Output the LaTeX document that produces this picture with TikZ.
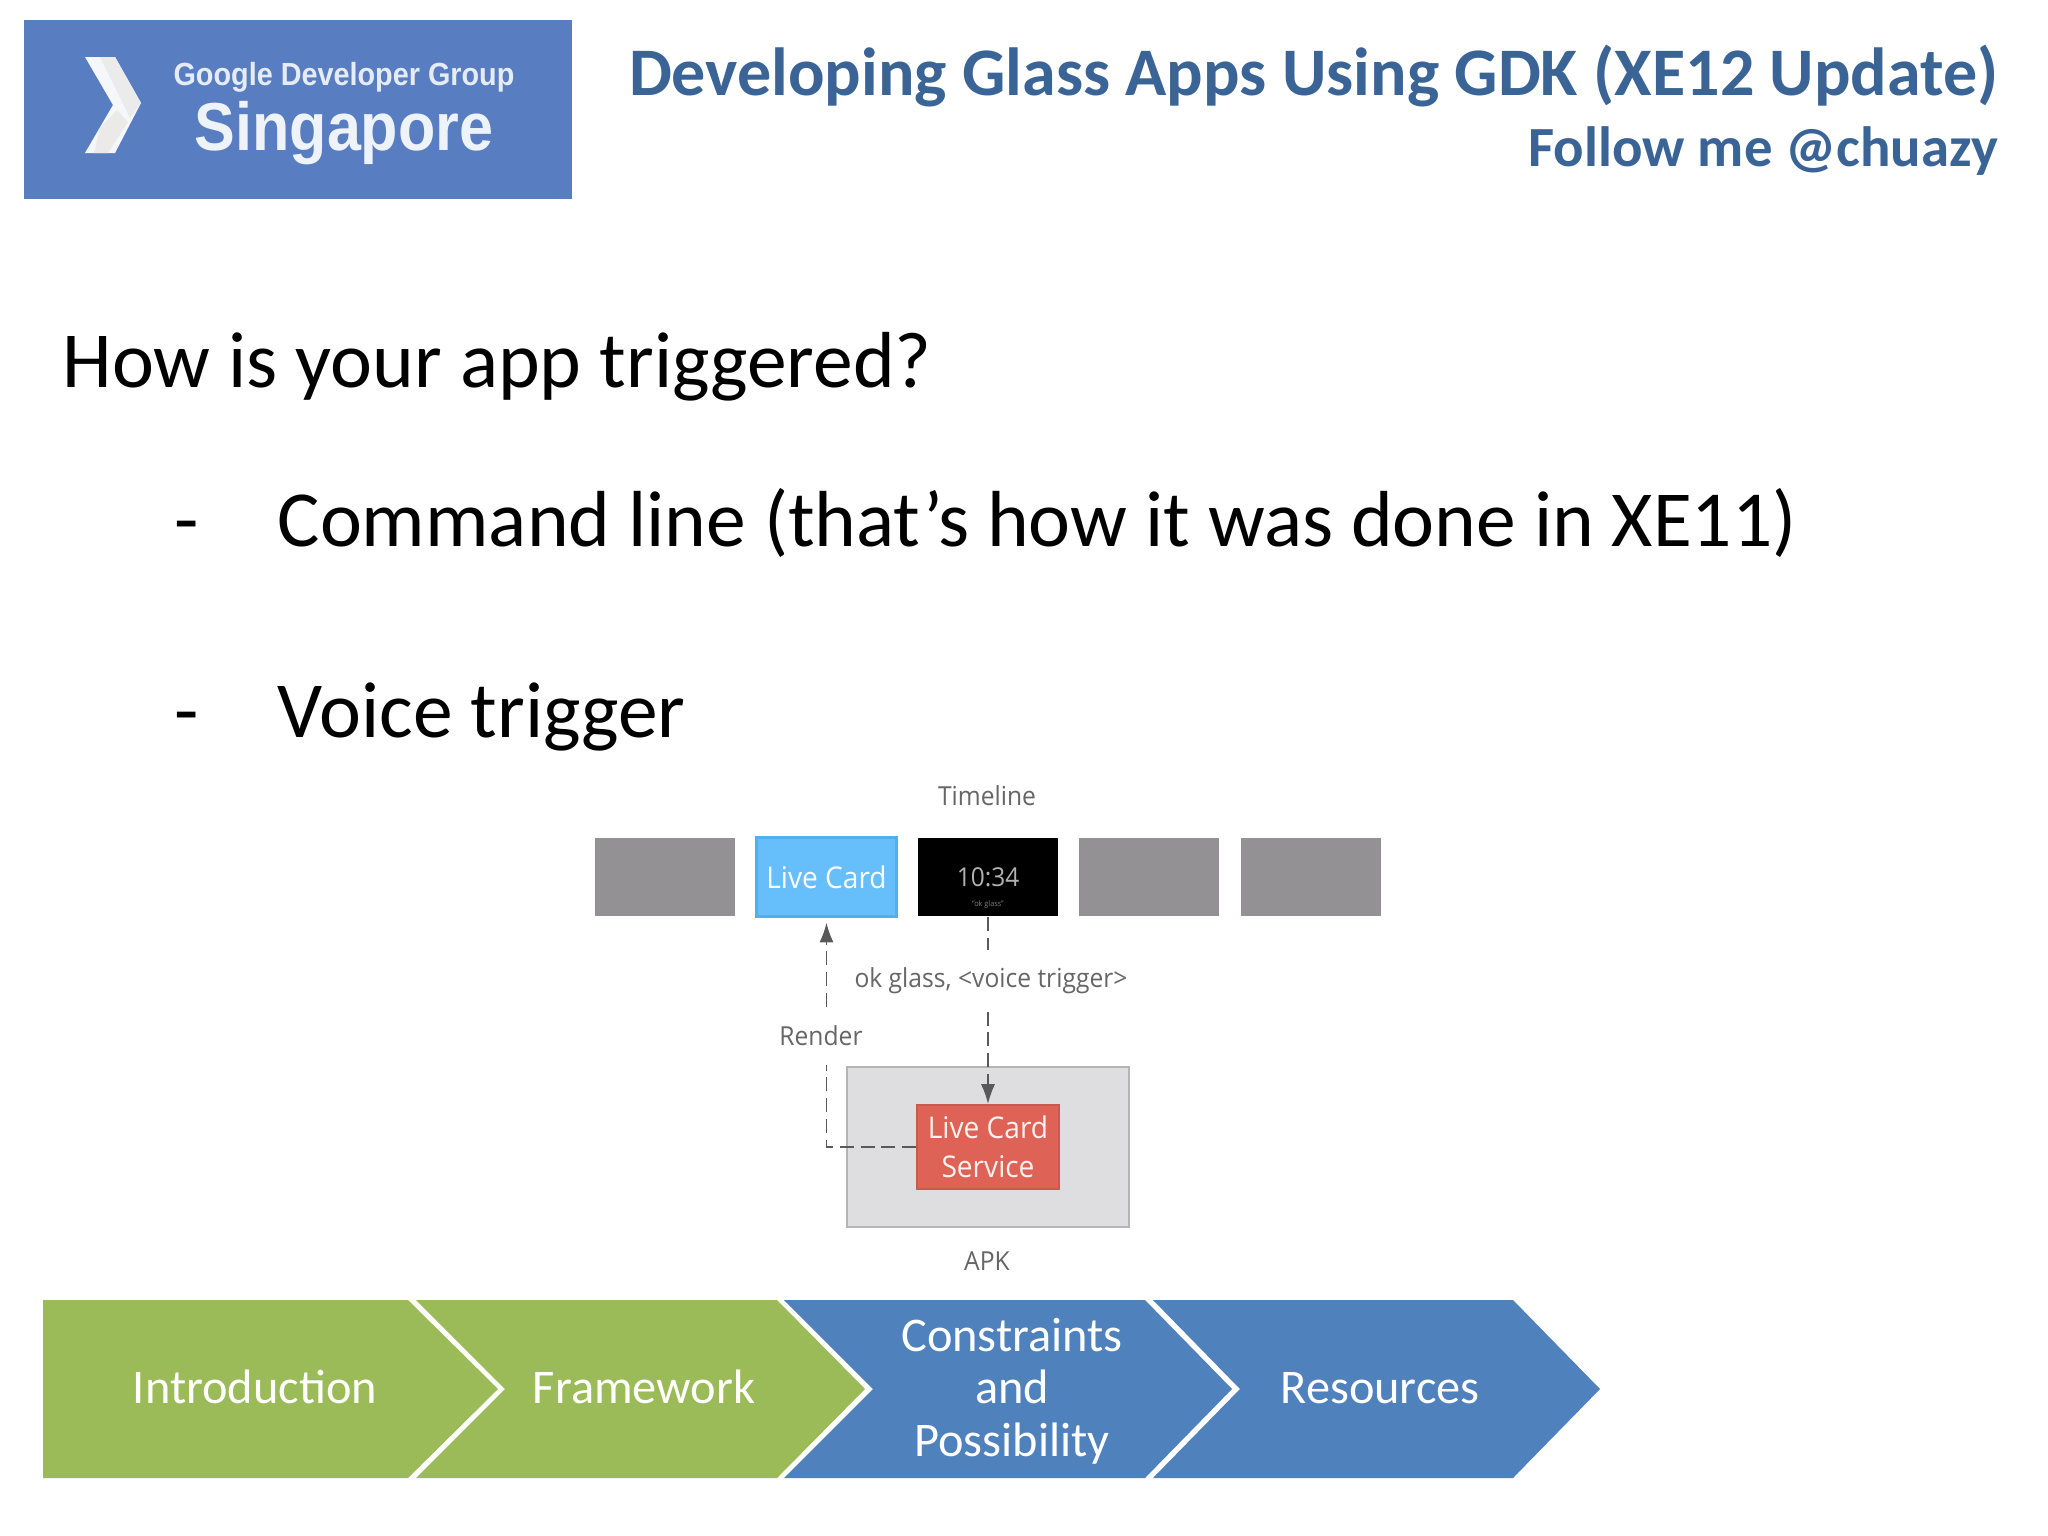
\documentclass[tikz,border=0pt]{standalone}
\usepackage{fontspec}
\usetikzlibrary{arrows.meta}
\setmainfont{Carlito}
\newfontfamily\cardfont[FakeStretch=0.94]{Open Sans}
\newfontfamily\logofont[FakeStretch=0.9]{Liberation Sans}
\definecolor{logoblue}{HTML}{587DC0}
\definecolor{titleblue}{HTML}{3A6496}
\definecolor{stepgreen}{HTML}{9BBB59}
\definecolor{stepblue}{HTML}{4F81BD}
\definecolor{cardgray}{HTML}{939194}
\definecolor{cardblue}{HTML}{66BEFB}
\definecolor{cardedge}{HTML}{4FB0EE}
\definecolor{apkgray}{HTML}{DEDDE0}
\definecolor{apkedge}{HTML}{B4B4B6}
\definecolor{servicered}{HTML}{DF6257}
\definecolor{inktext}{HTML}{666666}
\tikzset{
    titletext/.style={anchor=base east, inner sep=0pt, text=titleblue, font=\bfseries\fontsize{19.35}{23}\selectfont},
    bodytext/.style={anchor=base west, inner sep=0pt, text=black, font=\fontsize{22.6}{27}\selectfont},
    tcard/.style={inner sep=0pt, minimum width=40pt, minimum height=22.4pt},
    flowtext/.style={text=inktext, inner sep=0pt, font=\cardfont\fontsize{7.45}{9}\selectfont},
    flowline/.style={draw=black!65, line width=0.45pt, dash pattern=on 4pt off 1.9pt},
    flowtip/.style={-{Latex[length=5.6pt,width=4pt]}},
    steptext/.style={text=white, align=center, font=\fontsize{13.75}{15}\selectfont},
}
\begin{document}
\begin{tikzpicture}[x=0.01cm, y=-0.01cm]
    \useasboundingbox (0,0) rectangle (2048,1536);
    \fill [white] (0,0) rectangle (2048,1536);
    \fill [logoblue] (24,20) rectangle (572,199);
    \fill [white!94!logoblue] (85,57) -- (115,57) -- (141,103) -- (115,153) -- (85,153) -- (113,105) -- cycle;
    \fill [black!8] (100,57) -- (115,57) -- (141,103) -- (130,118) -- cycle;
    \fill [yellow!8!black!10] (100,128) -- (117,110) -- (128,122) -- (108,153) -- (94,153) -- cycle;
    \node [anchor=base, text=white!85!logoblue, font=\logofont\bfseries\fontsize{9.1}{11}\selectfont] (logotop) at (344,85) {Google Developer Group};
    \node [anchor=base, text=white!90!logoblue, font=\logofont\bfseries\fontsize{19.3}{23}\selectfont] (logomain) at (344,150) {Singapore};
    \node [titletext] (title) at (1999,95) {Developing Glass Apps Using GDK (XE12 Update)};
    \node [titletext, font=\bfseries\fontsize{16.15}{20}\selectfont] (follow) at (1999,166) {Follow me @chuazy};
    \node [bodytext] (question) at (62,387) {How is your app triggered?};
    \node [bodytext] (dashone) at (174,546) {-};
    \node [bodytext] (command) at (277,546) {Command line (that’s how it was done in XE11)};
    \node [bodytext] (dashtwo) at (174,737) {-};
    \node [bodytext] (voice) at (277,737) {Voice trigger};
    \node [flowtext] (timeline) at (987,796) {Timeline};
    \node [tcard, fill=cardgray] (cardone) at (665,877) {};
    \node [tcard, fill=cardblue, draw=cardedge, line width=0.8pt, text=white, font=\cardfont\fontsize{8.5}{10}\selectfont] (livecard) at (826.5,877) {Live Card};
    \node [tcard, fill=black, text=white!70!black, font=\cardfont\fontsize{7.4}{10}\selectfont] (clock) at (988,877) {10:34};
    \node [inner sep=0pt, text=white!50!black, font=\cardfont\fontsize{2.2}{3}\selectfont] (clocksub) at (988,904) {“ok glass”};
    \node [tcard, fill=cardgray] (cardfour) at (1149,877) {};
    \node [tcard, fill=cardgray] (cardfive) at (1311,877) {};
    \node [fill=apkgray, draw=apkedge, line width=0.7pt, inner sep=0pt, minimum width=80.2pt, minimum height=45.5pt] (apk) at (988,1147) {};
    \node [fill=servicered, draw=servicered!90!black, line width=0.5pt, inner sep=0pt, minimum width=40.4pt, minimum height=24pt, align=center, text=white!92!servicered, font=\cardfont\fontsize{8.5}{11}\selectfont] (service) at (988,1147) {Live Card\\Service};
    \node [flowtext, minimum height=17pt] (voicelabel) at (991,981) {ok glass, <voice trigger>};
    \node [flowtext, minimum height=16.2pt] (renderlabel) at (821,1036) {Render};
    \node [flowtext] (apklabel) at (987,1261) {APK};
    \draw [flowline] (clock.south) to (clock.south |- voicelabel.north);
    \draw [flowline, flowtip] (service.north |- voicelabel.south) to (service.north);
    \draw [flowline] (service.west) -| (livecard.south |- renderlabel.south);
    \draw [flowline, flowtip, shorten >=1.4pt] (livecard.south |- renderlabel.north) to (livecard.south);
    \fill [stepgreen] (43,1300) -- (408,1300) -- (498,1389) -- (408,1478) -- (43,1478) -- cycle;
    \fill [stepgreen] (416,1300) -- (777,1300) -- (865,1389) -- (777,1478) -- (416,1478) -- (505,1389) -- cycle;
    \fill [stepblue] (784,1300) -- (1145,1300) -- (1232,1389) -- (1145,1478) -- (784,1478) -- (873,1389) -- cycle;
    \fill [stepblue] (1153,1300) -- (1513,1300) -- (1600,1389) -- (1513,1478) -- (1153,1478) -- (1240,1389) -- cycle;
    \node [steptext] (intro) at (255,1387) {Introduction};
    \node [steptext] (framework) at (644,1387) {Framework};
    \node [steptext] (constraints) at (1012,1391) {Constraints\\and\\Possibility};
    \node [steptext] (resources) at (1380,1388) {Resources};
\end{tikzpicture}
\end{document}
